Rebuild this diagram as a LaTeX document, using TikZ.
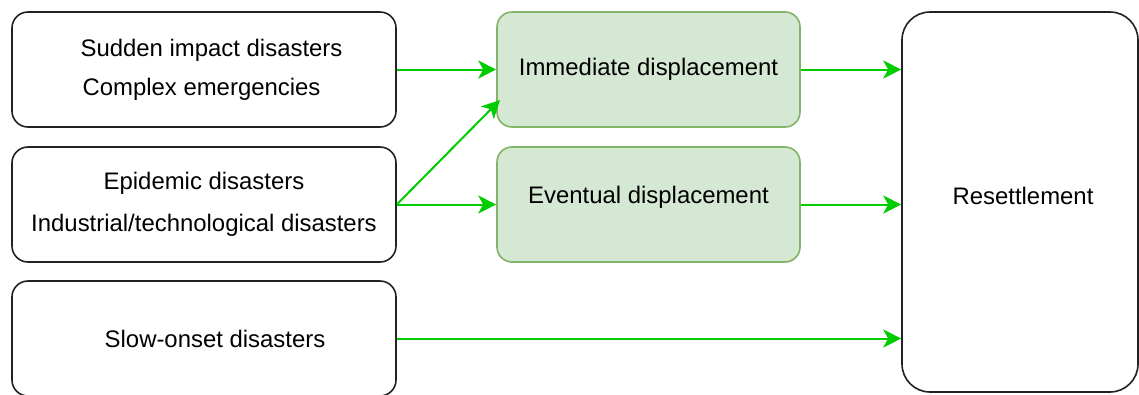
\documentclass[tikz,border=0pt]{standalone}
\usepackage{fontspec}
\setmainfont{Liberation Sans}
\usetikzlibrary{arrows.meta}
\definecolor{arrowgreen}{HTML}{00CC00}
\definecolor{boxfill}{HTML}{D5E8D4}
\definecolor{boxedge}{HTML}{82B366}
\definecolor{darkedge}{HTML}{222222}
\begin{document}
\begin{tikzpicture}[x=1bp,y=-1bp,
  every node/.style={font=\fontsize{24}{39}\selectfont, inner sep=0pt},
  srcbox/.style={draw=darkedge, line width=1.6bp, rounded corners=16bp, fill=white,
    minimum width=384bp, minimum height=115bp, align=center},
  dispbox/.style={draw=boxedge, line width=1.6bp, rounded corners=15bp, fill=boxfill,
    minimum width=303bp, minimum height=115bp, align=center},
  goalbox/.style={draw=darkedge, line width=1.6bp, rounded corners=28bp, fill=white,
    minimum width=236bp, minimum height=380bp, align=center},
  flow/.style={draw=arrowgreen, line width=2bp,
    -{Stealth[length=18bp, width=18bp, inset=5bp]}}
]
\useasboundingbox (0,0) rectangle (1139,394);
\node[srcbox, align=left] (sudden) at (204,69.5) {\hspace*{15bp}Sudden impact disasters\\\hspace*{17bp}Complex emergencies};
\node[srcbox] (epid) at (204,204.5) {Epidemic disasters\\[3bp]Industrial/technological disasters};
\node[srcbox] (slow) at (204,338.5) {\hspace*{22bp}Slow-onset disasters};
\node[dispbox] (immed) at (648.5,69.5) {};
\node (immedtxt) at (648.5,69) {Immediate displacement};
\node[dispbox] (event) at (648.5,204.5) {};
\node (eventtxt) at (648.5,197.5) {Eventual displacement};
\node[goalbox] (resettle) at (1020,202) {};
\node (resettletxt) at (1023,195.5) {Resettlement};
\coordinate (immedlow) at (500,100);
\draw[flow] (sudden.east) -- (immed.west);
\draw[flow] (epid.east) -- (immedlow);
\draw[flow] (epid.east) -- (event.west);
\draw[flow] (immed.east) -- (resettle.west |- immed.east);
\draw[flow] (event.east) -- (resettle.west |- event.east);
\draw[flow] (slow.east) -- (resettle.west |- slow.east);
\end{tikzpicture}
\end{document}
